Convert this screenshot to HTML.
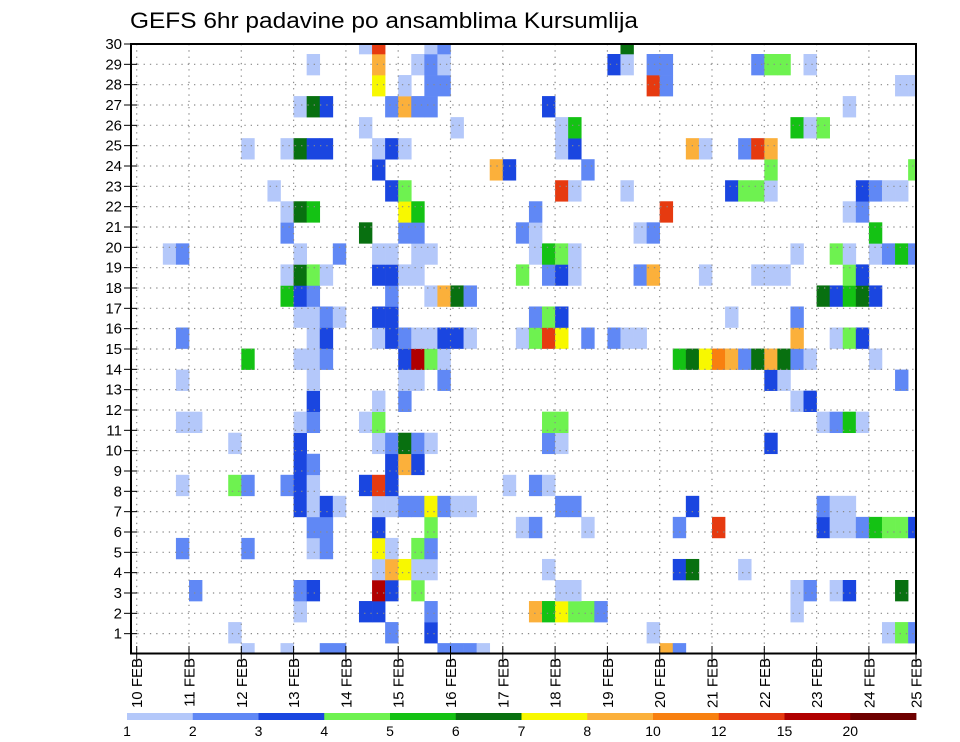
<!DOCTYPE html>
<html>
<head>
<meta charset="utf-8">
<style>
html,body{margin:0;padding:0;background:#fff;}
svg{display:block;}
text{font-family:"Liberation Sans",sans-serif;fill:#000;}
</style>
</head>
<body>
<svg id="chart" width="960" height="742" viewBox="0 0 960 742">
  <text x="130" y="28" font-size="22" textLength="508" lengthAdjust="spacingAndGlyphs">GEFS 6hr padavine po ansamblima Kursumlija</text>
  <defs><clipPath id="plotClip"><rect x="131" y="44" width="785" height="609"/></clipPath></defs>
  <g id="cells" clip-path="url(#plotClip)"></g>
  <g id="grid"></g>
  <rect x="131" y="44" width="785" height="609.5" fill="none" stroke="#000" stroke-width="2"/>
  <g id="yaxis"></g>
  <g id="xaxis"></g>
  <g id="colorbar"></g>
</svg>
<script>
// ---- data ----
const dayLabels = ["10 FEB","11 FEB","12 FEB","13 FEB","14 FEB","15 FEB","16 FEB","17 FEB","18 FEB","19 FEB","20 FEB","21 FEB","22 FEB","23 FEB","24 FEB","25 FEB"];
const memberTicks = [1,2,3,4,5,6,7,8,9,10,11,12,13,14,15,16,17,18,19,20,21,22,23,24,25,26,27,28,29,30];
const levelBounds = [1,2,3,4,5,6,7,8,10,12,15,20];
const levelLabels = ["1","2","3","4","5","6","7","8","10","12","15","20"];
const levelColors = ["#b4c8fa","#6088f5","#1a46e0","#6ef250","#14c214","#087010","#f8f800","#fbb03b","#f88010","#e63a10","#b00000","#6e0000"];
// precipitation (mm / 6h) per ensemble row (index 0 = bottom), as [6h step since 10 FEB 00Z, mm]
const rain00 = [[8,1.5],[11,1.5],[14,2.5],[15,2.5],[23,2.5],[24,2.5],[25,2.5],[26,1.5],[40,9],[41,2.5]];
const rain01 = [[7,1.5],[19,2.5],[22,3.5],[39,1.5],[57,1.5],[58,4.5],[59,2.5]];
const rain02 = [[12,1.5],[17,3.5],[18,3.5],[22,2.5],[30,9],[31,5.5],[32,7.5],[33,4.5],[34,4.5],[35,2.5],[50,1.5]];
const rain03 = [[4,2.5],[12,2.5],[13,3.5],[18,17.5],[19,3.5],[21,4.5],[32,1.5],[33,1.5],[50,1.5],[51,2.5],[53,1.5],[54,3.5],[58,6.5]];
const rain04 = [[18,1.5],[19,9],[20,7.5],[21,1.5],[22,1.5],[31,1.5],[41,3.5],[42,6.5],[46,1.5]];
const rain05 = [[3,2.5],[8,2.5],[13,1.5],[14,2.5],[18,7.5],[19,1.5],[21,4.5],[22,2.5]];
const rain06 = [[13,2.5],[14,2.5],[18,3.5],[22,4.5],[29,1.5],[30,2.5],[34,1.5],[41,2.5],[44,13.5],[52,3.5],[53,1.5],[54,1.5],[55,2.5],[56,5.5],[57,4.5],[58,4.5],[59,3.5]];
const rain07 = [[12,3.5],[13,1.5],[14,3.5],[15,1.5],[18,1.5],[19,1.5],[20,2.5],[21,2.5],[22,7.5],[23,2.5],[24,1.5],[25,1.5],[32,2.5],[33,2.5],[42,3.5],[52,2.5],[53,1.5],[54,1.5]];
const rain08 = [[3,1.5],[7,4.5],[8,2.5],[11,2.5],[12,3.5],[13,1.5],[17,3.5],[18,13.5],[19,3.5],[28,1.5],[30,2.5],[31,1.5]];
const rain09 = [[12,3.5],[13,2.5],[19,3.5],[20,9],[21,3.5]];
const rain10 = [[7,1.5],[12,3.5],[18,1.5],[19,2.5],[20,6.5],[21,2.5],[22,1.5],[31,2.5],[32,1.5],[48,3.5]];
const rain11 = [[3,1.5],[4,1.5],[12,1.5],[13,2.5],[17,1.5],[18,4.5],[31,4.5],[32,4.5],[52,1.5],[53,2.5],[54,5.5],[55,1.5]];
const rain12 = [[13,3.5],[18,1.5],[20,2.5],[50,1.5],[51,3.5]];
const rain13 = [[3,1.5],[13,1.5],[20,1.5],[21,1.5],[23,2.5],[48,3.5],[49,1.5],[58,2.5]];
const rain14 = [[8,5.5],[12,1.5],[13,1.5],[14,2.5],[20,3.5],[21,17.5],[22,4.5],[23,1.5],[41,5.5],[42,6.5],[43,7.5],[44,11],[45,9],[46,2.5],[47,6.5],[48,9],[49,6.5],[50,2.5],[51,1.5],[56,1.5]];
const rain15 = [[3,2.5],[13,1.5],[14,3.5],[18,1.5],[19,3.5],[20,2.5],[21,1.5],[22,1.5],[23,3.5],[24,3.5],[25,1.5],[29,1.5],[30,4.5],[31,13.5],[32,7.5],[34,2.5],[36,2.5],[37,1.5],[38,1.5],[50,9],[53,1.5],[54,4.5],[55,3.5]];
const rain16 = [[12,1.5],[13,1.5],[14,2.5],[15,1.5],[18,3.5],[19,3.5],[30,2.5],[31,4.5],[32,3.5],[45,1.5],[50,2.5]];
const rain17 = [[11,5.5],[12,3.5],[13,2.5],[19,2.5],[22,1.5],[23,9],[24,6.5],[25,2.5],[52,6.5],[53,3.5],[54,5.5],[55,6.5],[56,3.5]];
const rain18 = [[11,1.5],[12,6.5],[13,4.5],[14,1.5],[18,3.5],[19,3.5],[20,1.5],[21,1.5],[29,4.5],[31,2.5],[32,3.5],[33,1.5],[38,2.5],[39,9],[43,1.5],[47,1.5],[48,1.5],[49,1.5],[54,4.5],[55,3.5]];
const rain19 = [[2,1.5],[3,2.5],[12,1.5],[15,2.5],[18,1.5],[19,1.5],[21,1.5],[22,1.5],[30,1.5],[31,5.5],[32,4.5],[33,1.5],[50,1.5],[53,4.5],[54,1.5],[56,1.5],[57,2.5],[58,5.5],[59,2.5]];
const rain20 = [[11,2.5],[17,6.5],[20,2.5],[21,2.5],[29,2.5],[30,1.5],[38,1.5],[39,2.5],[56,5.5]];
const rain21 = [[11,1.5],[12,6.5],[13,5.5],[20,7.5],[21,5.5],[30,2.5],[40,13.5],[54,1.5],[55,2.5]];
const rain22 = [[10,1.5],[19,3.5],[20,4.5],[32,13.5],[33,1.5],[37,1.5],[45,3.5],[46,4.5],[47,4.5],[48,1.5],[55,3.5],[56,2.5],[57,1.5],[58,1.5]];
const rain23 = [[18,3.5],[27,9],[28,3.5],[34,2.5],[48,4.5],[59,4.5]];
const rain24 = [[8,1.5],[11,1.5],[12,6.5],[13,3.5],[14,3.5],[18,1.5],[19,3.5],[20,1.5],[32,1.5],[33,3.5],[42,9],[43,1.5],[46,2.5],[47,13.5],[48,9]];
const rain25 = [[17,1.5],[24,1.5],[32,1.5],[33,5.5],[50,5.5],[51,1.5],[52,4.5]];
const rain26 = [[12,1.5],[13,6.5],[14,3.5],[19,2.5],[20,9],[21,2.5],[22,2.5],[31,3.5],[54,1.5]];
const rain27 = [[18,7.5],[20,1.5],[22,2.5],[23,2.5],[39,13.5],[40,2.5],[58,1.5],[59,1.5]];
const rain28 = [[13,1.5],[18,9],[21,1.5],[22,2.5],[23,1.5],[36,3.5],[37,1.5],[39,2.5],[40,2.5],[47,2.5],[48,4.5],[49,4.5],[51,1.5]];
const rain29 = [[17,1.5],[18,13.5],[22,1.5],[23,2.5],[37,6.5]];
const rainRows = [rain00,rain01,rain02,rain03,rain04,rain05,rain06,rain07,rain08,rain09,rain10,rain11,rain12,rain13,rain14,rain15,rain16,rain17,rain18,rain19,rain20,rain21,rain22,rain23,rain24,rain25,rain26,rain27,rain28,rain29];

// ---- scales ----
const NS = "http://www.w3.org/2000/svg";
const day0X = 136.7, dayW = 52.3, stepW = dayW/4;
function xDay(i){ return day0X + dayW*i; }
function xStep(s){ return day0X + stepW*s; }
const rowH = 21.04, rowTop28 = 54;
function yRowTop(r){ return rowTop28 + rowH*(28 - r); }
function yMember(m){ return 44 + (30 - m)*20.333; }
function colorFor(v){
  let idx = -1;
  for (let i=0;i<levelBounds.length;i++){ if (v >= levelBounds[i]) idx = i; }
  return idx < 0 ? null : levelColors[idx];
}
function mk(tag, attrs, parent){
  const e = document.createElementNS(NS, tag);
  for (const k in attrs) e.setAttribute(k, attrs[k]);
  parent.appendChild(e);
  return e;
}

// ---- cells ----
const gCells = document.getElementById("cells");
rainRows.forEach(function(row, r){
  row.forEach(function(p){
    const c = colorFor(p[1]);
    if (!c) return;
    const el = mk("rect", {x: xStep(p[0]).toFixed(2), y: yRowTop(r).toFixed(2), width: (stepW+0.3).toFixed(2), height: (rowH+0.3).toFixed(2), fill: c}, gCells);
    
    
  });
});

// ---- grid ----
const gGrid = document.getElementById("grid");
memberTicks.forEach(function(m){
  if (m >= 30) return;
  const y = yMember(m);
  const el = mk("line", {x1: 131, x2: 916, y1: y, y2: y, stroke: "#8a8a8a", "stroke-width": 1.2, "stroke-dasharray": "1.3 5"}, gGrid);
  
  
});
dayLabels.forEach(function(lbl, i){
  const x = xDay(i);
  if (x <= 132 || x >= 915) return;
  const el = mk("line", {x1: x, x2: x, y1: 44, y2: 653, stroke: "#8a8a8a", "stroke-width": 1.2, "stroke-dasharray": "1.3 5"}, gGrid);
  
  
});

// ---- y axis ----
const gY = document.getElementById("yaxis");
memberTicks.forEach(function(m){
  const y = yMember(m);
  const t = mk("line", {x1: 124, x2: 137, y1: y, y2: y, stroke: "#000", "stroke-width": 1}, gY);
  
  
  const tx = mk("text", {x: 122, y: y + 5, "font-size": 15, "text-anchor": "end"}, gY);
  tx.textContent = String(m);
  
  
});

// ---- x axis ----
const gX = document.getElementById("xaxis");
dayLabels.forEach(function(lbl, i){
  const x = Math.min(xDay(i), 916);
  const t = mk("line", {x1: x, x2: x, y1: 646, y2: 661, stroke: "#000", "stroke-width": 1}, gX);
  
  
  const tx = mk("text", {x: 0, y: 0, "font-size": 15, "text-anchor": "end", transform: "translate(" + (x + 5.5) + ",658) rotate(-90)"}, gX);
  tx.textContent = lbl;
  
  
});

// ---- color bar ----
const gC = document.getElementById("colorbar");
const cbX0 = 127, cbX1 = 916, cbW = (cbX1 - cbX0) / levelColors.length;
levelColors.forEach(function(c, i){
  const r = mk("rect", {x: (cbX0 + cbW*i).toFixed(2), y: 713, width: (cbW + 0.4).toFixed(2), height: 7, fill: c}, gC);
  
  
});
levelLabels.forEach(function(l, i){
  const tx = mk("text", {x: (cbX0 + cbW*i).toFixed(2), y: 736, "font-size": 14, "text-anchor": "middle"}, gC);
  tx.textContent = l;
  
  
});
</script>
</body>
</html>
